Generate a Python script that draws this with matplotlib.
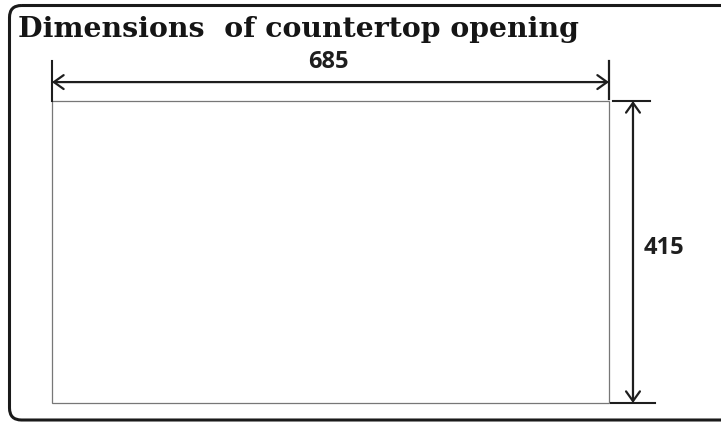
import matplotlib
matplotlib.use("Agg")
import matplotlib.pyplot as plt
from matplotlib.patches import FancyBboxPatch, Rectangle

# opening size (mm) and labels
width_mm = 685
height_mm = 415
title = "Dimensions  of countertop opening"
dim_labels = [str(width_mm), str(height_mm)]

W, H = 721, 423
fig = plt.figure(figsize=(W / 100, H / 100), dpi=100)

# background axes in pixel units for frame + title
bg = fig.add_axes([0, 0, 1, 1])
bg.set_xlim(0, W)
bg.set_ylim(H, 0)
bg.axis("off")
frame = FancyBboxPatch((9.5, 5.5), 760, 414.5,
                       boxstyle="round,pad=0,rounding_size=12",
                       fill=False, ec="#1a1a1a", lw=2.2, clip_on=False)
bg.add_patch(frame)
bg.text(18, 37, title, fontsize=20.4, fontweight="bold",
        family="DejaVu Serif", color="#151515", va="baseline", ha="left")

# drawing axes: data units are millimetres
ax = fig.add_axes([52 / W, 20 / H, 557 / W, 302 / H])
ax.set_xlim(0, width_mm)
ax.set_ylim(0, height_mm)
ax.axis("off")

ax.add_patch(Rectangle((0, 0), width_mm, height_mm, fill=False,
                       ec="#777777", lw=0.9, clip_on=False))

dark = "#1e1e1e"
arrow = dict(arrowstyle="<->,head_length=0.7,head_width=0.5", lw=1.6,
             color=dark, shrinkA=0, shrinkB=0)

# horizontal dimension
y_dim = height_mm + 26
y_ext = height_mm + 55
ax.plot([0, 0], [height_mm, y_ext], color=dark, lw=1.5, clip_on=False)
ax.plot([width_mm, width_mm], [height_mm + 3, y_ext], color=dark, lw=1.6,
        clip_on=False)
ax.annotate("", xy=(0, y_dim), xytext=(width_mm, y_dim),
            arrowprops=arrow, annotation_clip=False)
ax.text(width_mm / 2 - 2, y_dim + 27, dim_labels[0], ha="center", va="center",
        fontsize=17, fontweight="bold", family="Open Sans", color=dark)

# vertical dimension
x_dim = width_mm + 29.5
ax.plot([width_mm + 5, width_mm + 50], [height_mm, height_mm], color=dark,
        lw=1.5, clip_on=False)
ax.plot([width_mm + 3, width_mm + 56], [0, 0], color=dark, lw=1.5,
        clip_on=False)
ax.annotate("", xy=(x_dim, 0), xytext=(x_dim, height_mm),
            arrowprops=arrow, annotation_clip=False)
ax.text(width_mm + 68, height_mm * 0.513, dim_labels[1], ha="center",
        va="center", fontsize=17, fontweight="bold", family="Open Sans",
        color=dark)

fig.savefig("out.png", dpi=100)
